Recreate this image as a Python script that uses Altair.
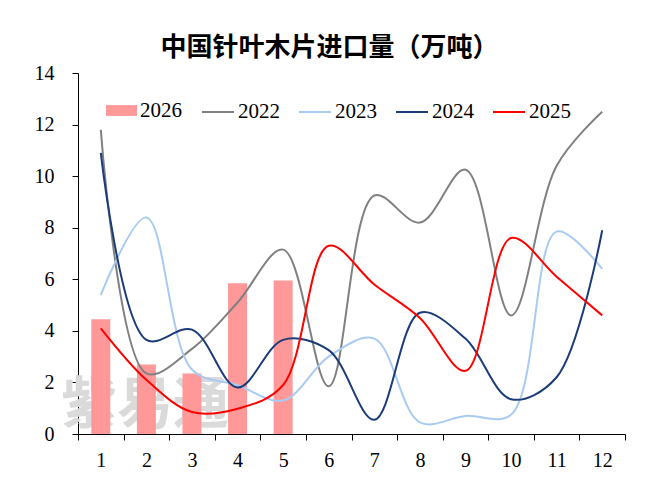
import altair as alt
import pandas as pd

months = list(range(1, 13))
s2022 = [11.8, 2.35, 3.3, 5.1, 7.15, 1.85, 9.25, 8.2, 10.25, 4.6, 10.4, 12.5]
s2023 = [5.4, 8.4, 2.5, 1.9, 1.3, 3.0, 3.7, 0.45, 0.7, 0.75, 7.85, 6.4]
s2024 = [10.9, 3.65, 4.05, 1.8, 3.65, 3.25, 0.55, 4.7, 3.7, 1.35, 2.2, 7.9]
s2025 = [4.1, 2.1, 0.85, 0.98, 1.9, 7.3, 5.8, 4.5, 2.45, 7.6, 6.1, 4.6]
bar_months = [1, 2, 3, 4, 5]
s2026 = [4.45, 2.7, 2.35, 5.85, 5.95]

line_years = ["2022", "2023", "2024", "2025"]
line_colors = ["#808080", "#A9CBF2", "#1B3C78", "#FF0000"]
bar_color = "#FF9999"

rows = []
for yr, vals in zip(line_years, [s2022, s2023, s2024, s2025]):
    for m, v in zip(months, vals):
        rows.append({"month": m, "value": v, "lyear": yr})
lines_df = pd.DataFrame(rows)
bars_df = pd.DataFrame({"month": bar_months, "value": s2026, "byear": ["2026"] * len(bar_months)})
wm_df = pd.DataFrame({"t": ["紫易通"]})

x_enc = alt.X(
    "month:O",
    scale=alt.Scale(domain=months, paddingInner=0, paddingOuter=0),
    axis=alt.Axis(
        title=None, labelAngle=0, tickBand="extent", tickSize=6,
        labelPadding=10, labelFont="Liberation Serif", labelFontSize=20,
        labelColor="black", domainColor="black", tickColor="black", grid=False,
    ),
)
y_enc = alt.Y(
    "value:Q",
    scale=alt.Scale(domain=[0, 14], nice=False),
    axis=alt.Axis(
        title=None, values=[0, 2, 4, 6, 8, 10, 12, 14], tickSize=6,
        labelPadding=18, labelFont="Liberation Serif", labelFontSize=20,
        labelColor="black", domainColor="black", tickColor="black", grid=False,
    ),
)

watermark = alt.Chart(wm_df).mark_text(
    font="Noto Sans CJK SC", fontWeight="bold", fontSize=56, color="#DADADA",
    align="center", baseline="middle",
).encode(text="t:N", x=alt.value(67), y=alt.value(333))

bars = alt.Chart(bars_df).mark_bar(size=19).encode(
    x=x_enc,
    y=y_enc,
    fill=alt.Fill(
        "byear:N",
        scale=alt.Scale(domain=["2026"], range=[bar_color]),
        legend=alt.Legend(
            title=None, orient="none", legendX=28, legendY=22,
            symbolType="M-1,-0.35H1V0.35H-1Z", symbolSize=961,
            symbolStrokeWidth=0, labelOffset=3,
            labelFont="Liberation Serif", labelFontSize=21, labelColor="black",
            padding=0,
        ),
    ),
)

lines = alt.Chart(lines_df).mark_line(
    interpolate="catmull-rom", strokeWidth=2
).encode(
    x=x_enc,
    y=y_enc,
    stroke=alt.Stroke(
        "lyear:N",
        scale=alt.Scale(domain=line_years, range=line_colors),
        legend=alt.Legend(
            title=None, orient="none", direction="horizontal",
            legendX=123, legendY=22,
            symbolType="stroke", symbolSize=1024, symbolStrokeWidth=2,
            labelOffset=3, columnPadding=15,
            labelFont="Liberation Serif", labelFontSize=21, labelColor="black",
            padding=0,
        ),
    ),
    detail="lyear:N",
)

chart = alt.layer(watermark, bars, lines).properties(
    width=547,
    height=361,
    autosize=alt.AutoSizeParams(type="none"),
    padding={"left": 70, "top": 65, "right": 10, "bottom": 45},
    title=alt.TitleParams(
        "中国针叶木片进口量（万吨）", font="Noto Sans CJK SC", fontSize=26,
        fontWeight="bold", color="black", anchor="middle", frame="group",
        dx=-22, offset=2,
    ),
).configure_view(stroke=None)

chart.save("out.html", embed_options={"renderer": "svg", "actions": False})
